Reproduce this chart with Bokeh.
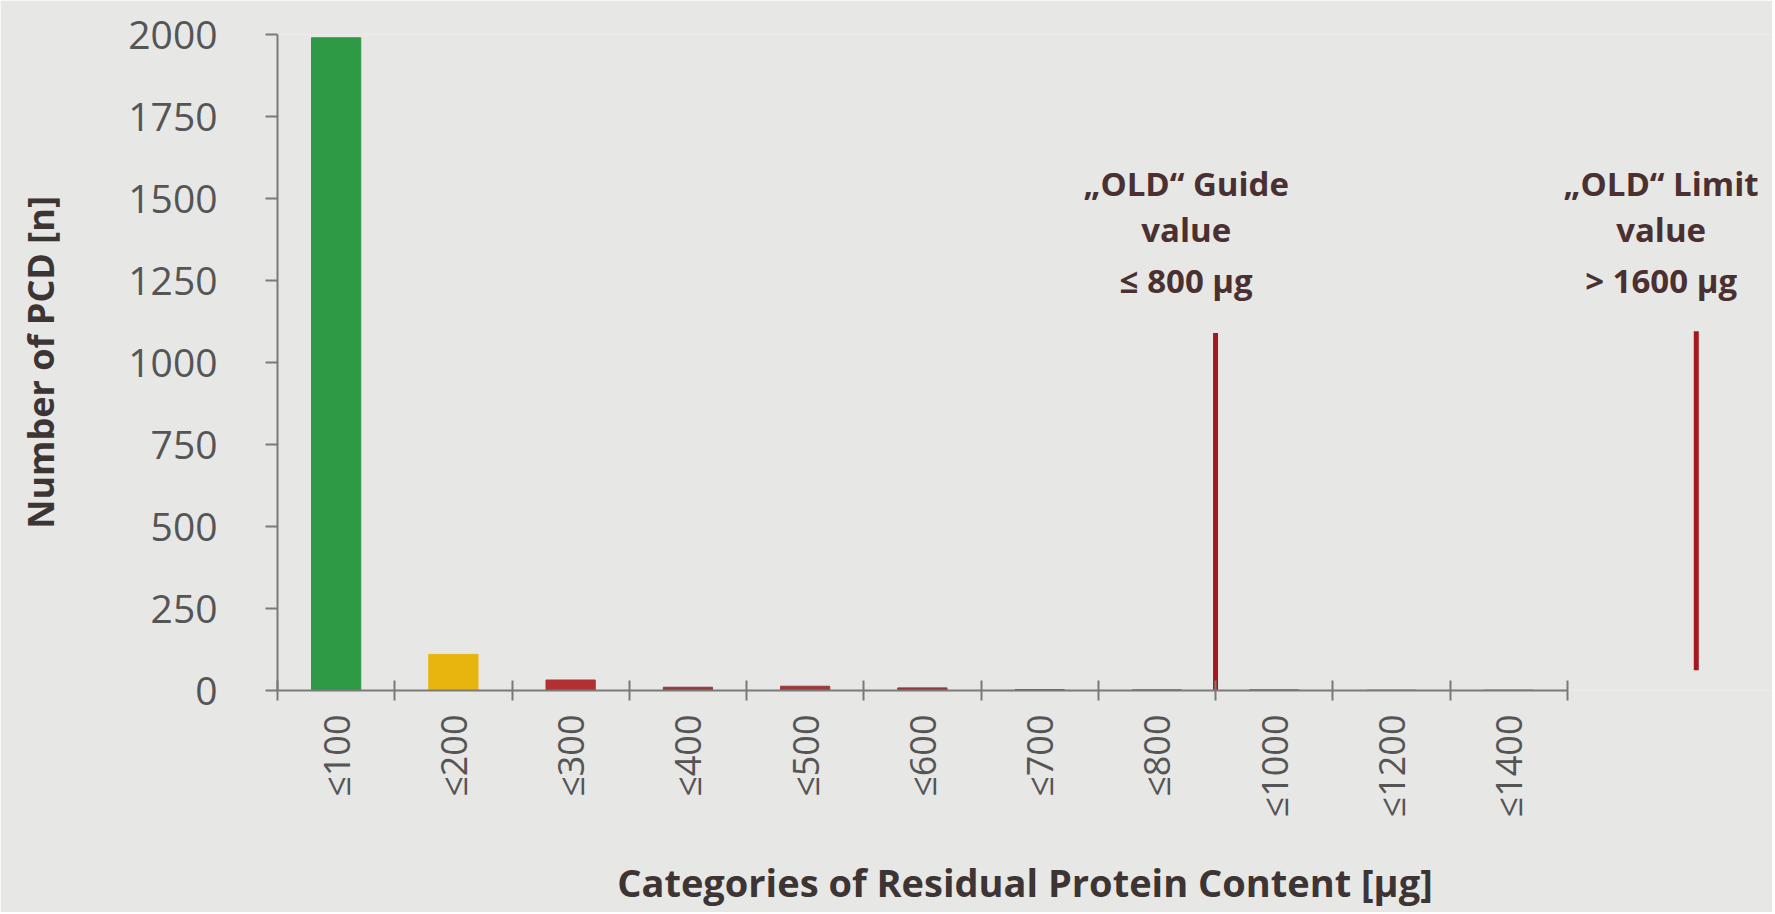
import math
from bokeh.plotting import figure
from bokeh.models import Range1d, FixedTicker, ColumnDataSource
from bokeh.core.properties import value
from bokeh.embed import file_html
from bokeh.resources import INLINE

# ---- data ----
categories = ["≤100", "≤200", "≤300", "≤400", "≤500", "≤600",
              "≤700", "≤800", "≤1000", "≤1200", "≤1400"]
counts = [1990, 110, 32, 10, 13, 8, 3, 2, 2, 1, 1]
bar_colors = ["#2f9a45", "#e8b50f", "#b2302f", "#8e3b3b", "#9a3a3a", "#8e3b3b",
              "#8e4a4a", "#8e4a4a", "#8e4a4a", "#8e4a4a", "#8e4a4a"]
y_ticks = [0, 250, 500, 750, 1000, 1250, 1500, 1750, 2000]

# reference lines: (x position in category units, y start, y end)
guide_x, guide_y0, guide_y1 = 8.0, 0, 1090
limit_x, limit_y0, limit_y1 = 12.1, 62, 1095
guide_text = ["\u201eOLD\u201c Guide", "value", "≤ 800 µg"]
limit_text = ["\u201eOLD\u201c Limit", "value", "> 1600 µg"]
guide_text_x, limit_text_x = 7.75, 11.8
text_y = [1545, 1405, 1250]

x_title = "Categories of Residual Protein Content [µg]"
y_title = "Number of PCD [n]"

BG = "#e7e7e5"
FONT = "Open Sans"
TXT = "#3d3434"
ANN = "#4a3030"
AX = "#7a7a7a"

centers = [i + 0.5 for i in range(len(categories))]
src = ColumnDataSource(dict(x=centers, top=counts, color=bar_colors, cat=categories))

p = figure(width=1772, height=912, output_backend="svg", toolbar_location=None,
           x_range=Range1d(0, 12.75), y_range=Range1d(0, 2000),
           min_border_left=277, min_border_right=0, min_border_top=34,
           min_border_bottom=222)
p.background_fill_color = BG
p.border_fill_color = BG
p.outline_line_color = None
p.grid.visible = False

p.vbar(x="x", top="top", width=0.42, bottom=0, color="color", source=src)

p.segment(x0=[guide_x, limit_x], y0=[guide_y0, limit_y0],
          x1=[guide_x, limit_x], y1=[guide_y1, limit_y1],
          line_color="#a3181f", line_width=5)

p.text(x=[guide_text_x] * 3, y=text_y, text=guide_text,
       text_align="center", text_baseline="middle",
       text_font=value(FONT), text_font_style="bold",
       text_font_size="33px", text_color=ANN)
p.text(x=[limit_text_x] * 3, y=text_y, text=limit_text,
       text_align="center", text_baseline="middle",
       text_font=value(FONT), text_font_style="bold",
       text_font_size="33px", text_color=ANN)

# x axis
xa = p.xaxis[0]
xa.ticker = FixedTicker(ticks=centers, minor_ticks=list(range(len(categories) + 1)))
xa.major_label_overrides = {c: lab for c, lab in zip(centers, categories)}
xa.bounds = (0, len(categories))
xa.major_tick_out = 0
xa.major_tick_in = 0
xa.minor_tick_out = 10
xa.minor_tick_in = 10
xa.minor_tick_line_color = AX
xa.minor_tick_line_width = 2
xa.axis_line_color = AX
xa.axis_line_width = 2
xa.major_label_orientation = math.pi / 2
xa.major_label_standoff = 14
xa.major_label_text_font = FONT
xa.major_label_text_font_size = "36px"
xa.major_label_text_color = "#555555"
xa.axis_label = x_title
xa.axis_label_text_font = FONT
xa.axis_label_text_font_style = "bold"
xa.axis_label_text_font_size = "38px"
xa.axis_label_text_color = TXT
xa.axis_label_standoff = 36

# y axis
ya = p.yaxis[0]
ya.ticker = FixedTicker(ticks=y_ticks)
ya.major_tick_out = 12
ya.major_tick_in = 0
ya.minor_tick_out = 0
ya.minor_tick_in = 0
ya.major_tick_line_color = AX
ya.major_tick_line_width = 2
ya.axis_line_color = AX
ya.axis_line_width = 2
ya.major_label_standoff = 48
ya.major_label_text_font = FONT
ya.major_label_text_font_size = "39px"
ya.major_label_text_color = "#555555"
ya.axis_label = y_title
ya.axis_label_text_font = FONT
ya.axis_label_text_font_style = "bold"
ya.axis_label_text_font_size = "36px"
ya.axis_label_text_color = TXT
ya.axis_label_standoff = 60

open("out.html", "w").write(file_html(p, INLINE))
